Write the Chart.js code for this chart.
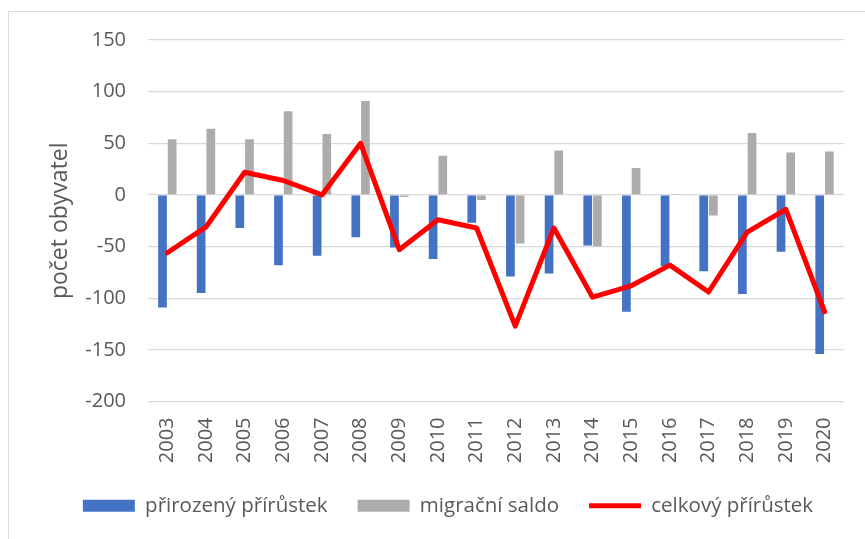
<!DOCTYPE html>
<html>
<head>
<meta charset="utf-8">
<script src="https://cdn.jsdelivr.net/npm/chart.js@4/dist/chart.umd.min.js"></script>
<style>
  html, body { margin: 0; padding: 0; background: #fff; }
  #wrap { width: 865px; height: 539px; }
</style>
</head>
<body>
<div id="wrap"><canvas id="chart"></canvas></div>
<script>
// roky
const years = ['2003', '2004', '2005', '2006', '2007', '2008', '2009', '2010', '2011',
               '2012', '2013', '2014', '2015', '2016', '2017', '2018', '2019', '2020'];
// přirozený přírůstek (narození - zemřelí)
const natural = [-109, -95, -32, -68, -59, -41, -51, -62, -27, -79, -76, -49, -113, -69, -74, -96, -55, -154];
// migrační saldo
const migration = [54, 64, 54, 81, 59, 91, -2, 38, -5, -47, 43, -50, 26, 1, -20, 60, 41, 42];
// celkový přírůstek
const total = [-56, -31, 22, 14, 0, 50, -53, -24, -32, -127, -32, -99, -88, -68, -94, -36, -14, -113];

const yTicks = [150, 100, 50, 0, -50, -100, -150, -200];

const textColor = '#595959';
const fontFamily = '"Open Sans", "Liberation Sans", sans-serif';

// tenký rámeček kolem grafu jako v Excelu
const framePlugin = {
    id: 'frame',
    beforeDraw(chart) {
        const ctx = chart.ctx;
        ctx.save();
        ctx.strokeStyle = '#d9d9d9';
        ctx.lineWidth = 1;
        ctx.strokeRect(8.5, 11.5, 900, 600);
        ctx.restore();
    }
};

const ctx = document.getElementById('chart').getContext('2d');
const chart = new Chart(ctx, {
    type: 'bar',
    data: {
        labels: years,
        datasets: [
            {
                label: 'přirozený přírůstek',
                data: natural,
                backgroundColor: '#4472C4',
                borderWidth: 0,
                pointStyle: 'rect',
                order: 1,
                categoryPercentage: 0.5,
                barPercentage: 0.9
            },
            {
                label: 'migrační saldo',
                data: migration,
                backgroundColor: '#AEABAB',
                borderWidth: 0,
                pointStyle: 'rect',
                order: 1,
                categoryPercentage: 0.5,
                barPercentage: 0.9
            },
            {
                type: 'line',
                label: 'celkový přírůstek',
                data: total,
                borderColor: '#FF0000',
                backgroundColor: '#FF0000',
                borderWidth: 5,
                borderCapStyle: 'round',
                borderJoinStyle: 'round',
                pointRadius: 0,
                pointStyle: 'line',
                tension: 0,
                order: 0
            }
        ]
    },
    options: {
        responsive: true,
        maintainAspectRatio: false,
        animation: false,
        layout: {
            padding: { left: 48, right: 17, top: 40, bottom: 13 }
        },
        scales: {
            x: {
                afterFit(scale) { scale.height = 64; },
                grid: { display: false, drawTicks: false },
                border: { display: false },
                ticks: {
                    color: textColor,
                    font: { family: fontFamily, size: 20 },
                    minRotation: 90,
                    maxRotation: 90,
                    padding: 16
                }
            },
            y: {
                min: -200,
                max: 150,
                afterFit(scale) { scale.width = 100; },
                afterBuildTicks(scale) {
                    scale.ticks = yTicks.map(v => ({ value: v }));
                },
                grid: {
                    color: '#d9d9d9',
                    lineWidth: 1.3,
                    drawTicks: false
                },
                border: { display: false },
                ticks: {
                    color: textColor,
                    font: { family: fontFamily, size: 20 },
                    padding: 22
                },
                title: {
                    display: true,
                    text: 'počet obyvatel',
                    color: textColor,
                    font: { family: fontFamily, size: 23, lineHeight: 1.05 },
                    padding: { top: 0, bottom: 0 }
                }
            }
        },
        plugins: {
            legend: {
                display: true,
                position: 'bottom',
                labels: {
                    color: textColor,
                    font: { family: fontFamily, size: 20.5 },
                    usePointStyle: true,
                    pointStyleWidth: 52,
                    boxHeight: 12,
                    padding: 30,
                    sort: (a, b) => a.datasetIndex - b.datasetIndex
                }
            },
            tooltip: { enabled: false }
        }
    },
    plugins: [framePlugin]
});
</script>
</body>
</html>
